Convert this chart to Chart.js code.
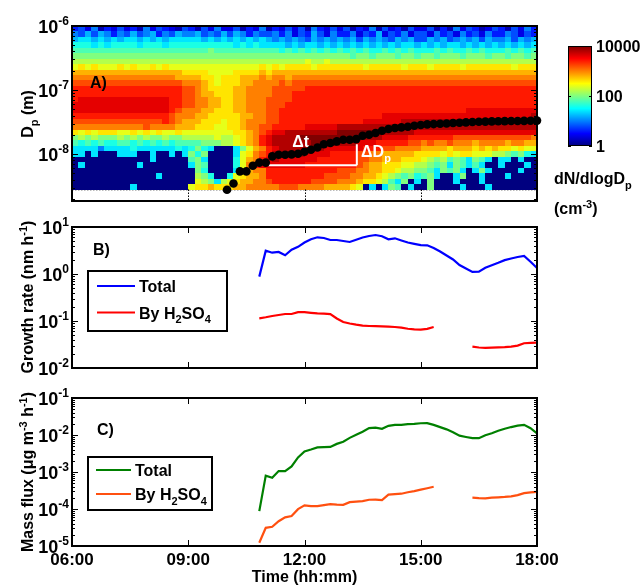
<!DOCTYPE html>
<html>
<head>
<meta charset="utf-8">
<title>New particle formation and growth</title>
<script src="https://cdn.jsdelivr.net/npm/chart.js@4.4.1/dist/chart.umd.min.js"></script>
<style>
  html, body { margin: 0; padding: 0; background: #fff; }
  #figure { position: relative; width: 641px; height: 585px; overflow: hidden; background: #fff; }
  #figure canvas { position: absolute; left: 0; }
</style>
</head>
<body>
<div id="figure">
  <canvas id="panelA" width="641" height="222" style="top:0px"></canvas>
  <canvas id="panelB" width="641" height="168" style="top:214px"></canvas>
  <canvas id="panelC" width="641" height="200" style="top:385px"></canvas>
</div>
<script>
// ---------------- data ----------------
const timeTickHours = [6, 9, 12, 15, 18];
const timeTickLabels = ['06:00', '09:00', '12:00', '15:00', '18:00'];
const dpTickExponents = [-8, -7, -6];
const rateTickExponents = [-2, -1, 0, 1];
const fluxTickExponents = [-5, -4, -3, -2, -1];
const colorbarTickValues = [1, 100, 10000];

// Size distribution: 10-minute columns from 06:00 to 18:00, 30 log-spaced
// diameter bins between 2.8 nm and 1 um, first row = largest diameters.
// One character per cell = log10(dN/dlogDp) in steps of 0.2:
// '0' = 0 ... '9' = 1.8, 'a' = 2.0 ... 'k' = 4.0
const sizeDistStartHour = 6;
const sizeDistStepHours = 1 / 6;
const sizeDistDpRange = [2.8e-9, 1e-6];
const sizeDistRows = [
  "342513242315243214 314252 241325 132424153242 413251423142 241315243124 314253",
  "546465354645635465 564546 465354 453524364253 352436243524 425342534253 354243",
  "677676767767676777 776767 676767 656565465656 564656546564 465645656465 564656",
  "888787888878887888 888888 878787 777676776767 676767676776 767677676767 676767",
  "999999999999999999 999a99 999999 998989898989 898988989898 889898898988 898989",
  "aaaaaaaaaaaaaaaaaa aaaaaa aaaaaa aaaaaaaaaaaa a9aa9aaa9aa9 aa9aaa9aaa9a a9aa9a",
  "bbbbbbbbbbbbbbbbbb bbbbbb bbbbbb bbbbbbcbbcbb bbbbbbbbbbbb bbbbbbbbbbbb bbbbbb",
  "cdcdcccdcdccdcdccc cccccc cccccd cdcddddcdddd dddcdddddcdd dcddddcddddd ddcddd",
  "eeeeeeeeeeeeeeeeed dddccc cdddde deeeeeeeeeee eeeeeeeeeeee eeeeeeeeeeee eeeeee",
  "ffffffffffffffffee eeddcd ddeeef effeffffffff ffffffffffff ffffffffffff ffffff",
  "gggggggggggggggggf ffedcd ddeeff ffgfgggggggg gggggggggggg gggggggggggg gggggg",
  "hhhhhhhhhhhhhhhhhg gfeddd deefff fggggghhhhhh hhhhhhhhhhhh hhhhhhhhhhhh hhhhhh",
  "hhhhhhhhhhhhhhhhhg gfeedd deefff fggghhhhhhhh hhhhhhhhhhhh hhhhhhhhhhhh hhhhhh",
  "hiiiiiiiiiiiiiihhg gffeed deefff gggghhhhhhhh hhhhhhhhhhhh hhhhhhhhhhhh hhhhhh",
  "iiiiiiiiiiiiiiihhg gffeed deefff ggghhhhhhhhh hhhhhhhhhhhh hhhhhhhhhhhh hhhhhh",
  "iiiiiiiiiiiiiiihgf ffeedd deefff gghhhhhhhhhh hhhhhhhhhhhh hhhhhhhiiiii iiiiii",
  "hhhhhhhhhhhhhhhgff feeddd ddeeff gghhhhhhhhhh hhhhhhiiiiii iiiiiiiiiiii iiiiij",
  "gggggggggggggghgfe eedddc ddefff gghhhhhhhhhh hhhiiiiiijjj jjjjjjjjjjjj jjjjjj",
  "fffffffffffgffffee edddcc ddeffg ghhhhhiiiiij jjjjjjjjjjjj jjjjjjjjjjjj jjjjjj",
  "dcdcdddccdcdcdccdc cccccc cddefg hiijjjjjjjjk kkkkkjjjjjji iiiiiiiiiiii iiiiii",
  "ababaaabababaabaab bbbbcb bcdefh ijjjjkkkkkkk kkkjjjiiiihh hhhhhggggggg gggggf",
  "989898899898989899 99aaab bcdefh ijjjjjjkkkkj jjiiihhhhhgg fgffgfffefff feffee",
  "777757777877777787 8a8700 07acef hijjjjjjjiii iiihhhggffff eeeedeeedede ddcdcc",
  "770700077700700707 a8a000 07cdfg hjjjjjiiiihh hhggffeeeeed dddcdcddcccb ba9a87",
  "000000000000700000 9a7000 08cefh ijiiiiiihhhh hhggffeeeddd cbab9a97a970 770700",
  "070000000070000000 7a9000 08cfhi iiiiiihhhhhh hhgfeedddccb ba9a7a979700 700070",
  "000000000000000000 0a8000 07deff hhhhhhhhhhhg ggffeeddcbba a97a9a707a70 000700",
  "000000000000070000 0ba800 8cdeef hhhhhhhhhggg gffeedcba9a8 9a7007a00700 070000",
  "000000000000000000 0cba7b cdeeff ghhhhhhggggf ffeddcb97a07 0a0007000700 000000",
  "000000000700000000 cddedd deefff ffgggffffeee edc0707a9070 0a0000700070 000000"
];

// Mode diameter (nm) of the growing particle population, every 10 min from 10:00
const modeStartHour = 10;
const modeDiameterNm = [
  2.77, 3.48, 5.37, 5.37, 6.56, 7.36, 7.36, 9.2, 9.75, 9.75,
  9.9, 10.1, 10.9, 11.7, 12.7, 14.2, 14.9, 15.8, 16.7, 16.7,
  17.1, 19.3, 20.0, 21.3, 23.1, 24.6, 25.5, 26.1, 26.7, 27.7,
  28.4, 29.1, 29.4, 29.8, 30.1, 30.5, 30.9, 31.3, 31.6, 31.9,
  32.1, 32.4, 32.5, 32.7, 32.8, 32.9, 33.0, 33.2, 33.3
];

// Growth rates (nm/h) and mass fluxes (ug m-3 h-1), every 10 min from 10:50
const rateStartHour = 10 + 50 / 60;
const growthRateTotal = [
  0.88, 3.13, 2.84, 2.94, 2.50, 3.29, 3.79, 4.68, 5.50, 6.04,
  5.83, 5.29, 5.29, 5.03, 4.80, 5.37, 5.98, 6.44, 6.76, 6.37,
  5.47, 5.75, 5.17, 4.68, 4.39, 4.10, 4.08, 3.57, 3.01, 2.48,
  2.04, 1.55, 1.31, 1.11, 1.12, 1.36, 1.54, 1.73, 1.97, 2.14,
  2.30, 2.42, 1.82, 1.34
];
const growthRateH2SO4 = [
  0.114, 0.120, 0.128, 0.134, 0.141, 0.141, 0.154, 0.154, 0.149, 0.145,
  0.143, 0.140, 0.113, 0.0953, 0.0885, 0.0834, 0.0798, 0.0783, 0.0775, 0.0767,
  0.0756, 0.0745, 0.0720, 0.0685, 0.0662, 0.0656, 0.0682, 0.0745, null, null,
  null, null, null, 0.0284, 0.0273, 0.0267, 0.0272, 0.0276, 0.0277, 0.0285,
  0.0300, 0.0336, 0.0341, 0.0345
];
const massFluxTotal = [
  8.75e-5, 7.98e-4, 7.0e-4, 1.06e-3, 1.06e-3, 1.41e-3, 2.47e-3, 3.60e-3, 4.05e-3, 4.62e-3,
  4.68e-3, 4.77e-3, 5.75e-3, 6.60e-3, 8.37e-3, 1.01e-2, 1.22e-2, 1.53e-2, 1.59e-2, 1.47e-2,
  1.77e-2, 1.88e-2, 1.88e-2, 1.96e-2, 2.00e-2, 2.08e-2, 2.10e-2, 1.88e-2, 1.63e-2, 1.42e-2,
  1.19e-2, 9.6e-3, 8.85e-3, 8.22e-3, 8.22e-3, 9.9e-3, 1.12e-2, 1.30e-2, 1.47e-2, 1.64e-2,
  1.79e-2, 1.88e-2, 1.53e-2, 1.11e-2
];
const massFluxH2SO4 = [
  1.22e-5, 3.10e-5, 3.32e-5, 4.68e-5, 5.93e-5, 6.47e-5, 9.9e-5, 1.25e-4, 1.19e-4, 1.19e-4,
  1.27e-4, 1.35e-4, 1.31e-4, 1.30e-4, 1.53e-4, 1.58e-4, 1.63e-4, 1.78e-4, 1.79e-4, 1.74e-4,
  2.45e-4, 2.53e-4, 2.59e-4, 2.83e-4, 3.05e-4, 3.33e-4, 3.63e-4, 3.99e-4, null, null,
  null, null, null, 2.02e-4, 1.97e-4, 1.94e-4, 2.03e-4, 2.07e-4, 2.12e-4, 2.20e-4,
  2.38e-4, 2.69e-4, 2.83e-4, 2.92e-4
];

// Markers for the growth time (dt) and diameter change (dDp)
const dtBar = { fromHour: 11.07, toHour: 13.35, dp: 6.7e-9 };
const dDpBar = { hour: 13.35, fromDp: 6.7e-9, toDp: 14.3e-9 };

// ---------------- helpers ----------------
const tenMinuteTimes = (start, n) => Array.from({ length: n }, (_, i) => start + i / 6);
const FONT_FAMILY = '"Liberation Sans", Arial, Helvetica, sans-serif';
const boldFont = size => `bold ${size}px ${FONT_FAMILY}`;
const smallSize = size => Math.round(size * 0.68);

function jet(t) {
  const c = v => Math.max(0, Math.min(1, v));
  return [
    c(Math.min(4 * t - 1.5, -4 * t + 4.5)),
    c(Math.min(4 * t - 0.5, -4 * t + 3.5)),
    c(Math.min(4 * t + 0.5, -4 * t + 2.5))
  ];
}
function jetCss(t) {
  const [r, g, b] = jet(t);
  return `rgb(${Math.round(r * 255)},${Math.round(g * 255)},${Math.round(b * 255)})`;
}
const LEVEL_CHARS = '0123456789abcdefghijk';
const cellLog10 = ch => Math.max(0, LEVEL_CHARS.indexOf(ch)) * 0.2;

// text made of runs: {t, s: 'sub' | 'sup'}
function runsWidth(ctx, runs, size) {
  let w = 0;
  for (const r of runs) {
    ctx.font = boldFont(r.s ? smallSize(size) : size);
    w += ctx.measureText(r.t).width;
  }
  return w;
}
function drawRuns(ctx, runs, x, y, size, align) {
  const w = runsWidth(ctx, runs, size);
  let cx = align === 'center' ? x - w / 2 : align === 'right' ? x - w : x;
  ctx.textAlign = 'left';
  ctx.textBaseline = 'alphabetic';
  for (const r of runs) {
    ctx.font = boldFont(r.s ? smallSize(size) : size);
    const dy = r.s === 'sub' ? size * 0.3 : r.s === 'sup' ? -size * 0.4 : 0;
    ctx.fillText(r.t, cx, y + dy);
    cx += ctx.measureText(r.t).width;
  }
}
// "By H2SO4" -> digits as subscripts
function formulaRuns(label) {
  return label.split(/(\d+)/).filter(s => s.length).map(s => /^\d+$/.test(s) ? { t: s, s: 'sub' } : { t: s });
}

function drawAxes(chart, cfg) {
  const { ctx, chartArea: a, scales: { x, y } } = chart;
  ctx.save();
  ctx.strokeStyle = '#000';
  ctx.fillStyle = '#000';
  ctx.lineWidth = 1;
  // decade and minor ticks on both vertical sides, pointing inwards
  ctx.beginPath();
  const d0 = Math.floor(Math.log10(y.min) + 1e-9), d1 = Math.ceil(Math.log10(y.max) - 1e-9);
  for (let d = d0; d <= d1; d++) {
    for (let m = 1; m < 10; m++) {
      const v = m * Math.pow(10, d);
      if (v < y.min * 0.999 || v > y.max * 1.001) continue;
      const py = Math.round(y.getPixelForValue(v)) + 0.5;
      const len = m === 1 ? 6 : 3;
      ctx.moveTo(a.left, py); ctx.lineTo(a.left + len, py);
      ctx.moveTo(a.right, py); ctx.lineTo(a.right - len, py);
    }
  }
  ctx.stroke();
  // time ticks
  ctx.beginPath();
  if (cfg.dottedFrom) ctx.setLineDash([1.5, 1.5]);
  timeTickHours.forEach(h => {
    if (h <= x.min || h >= x.max) return;
    const px = Math.round(x.getPixelForValue(h)) + 0.5;
    if (cfg.dottedFrom) {
      ctx.moveTo(px, y.getPixelForValue(cfg.dottedFrom)); ctx.lineTo(px, a.bottom);
    } else {
      ctx.moveTo(px, a.bottom); ctx.lineTo(px, a.bottom - 6);
      ctx.moveTo(px, a.top); ctx.lineTo(px, a.top + 6);
    }
  });
  ctx.stroke();
  ctx.setLineDash([]);
  // frame
  ctx.lineWidth = 2;
  ctx.strokeRect(a.left, a.top, a.right - a.left, a.bottom - a.top);
  // decade labels
  cfg.yExps.forEach(e => {
    const py = y.getPixelForValue(Math.pow(10, e));
    drawRuns(ctx, [{ t: '10' }, { t: String(e), s: 'sup' }], a.left - 3, py + 6.5, 18, 'right');
  });
  // time labels
  if (cfg.timeLabelBaseline) {
    timeTickHours.forEach((h, i) => {
      drawRuns(ctx, [{ t: timeTickLabels[i] }], x.getPixelForValue(h), cfg.timeLabelBaseline, 17, 'center');
    });
    drawRuns(ctx, [{ t: 'Time (hh:mm)' }], (a.left + a.right) / 2, cfg.timeTitleBaseline, 16, 'center');
  }
  // rotated y title
  ctx.save();
  ctx.translate(33, cfg.titleCenterY);
  ctx.rotate(-Math.PI / 2);
  drawRuns(ctx, cfg.title, 0, 0, 16, 'center');
  ctx.restore();
  // panel letter
  drawRuns(ctx, [{ t: cfg.letter[0] }], cfg.letter[1], cfg.letter[2], 16, 'left');
  ctx.restore();
}

function drawLegend(chart, box, rowY, lineX, textX) {
  const ctx = chart.ctx;
  ctx.save();
  ctx.fillStyle = '#fff';
  ctx.fillRect(box[0], box[1], box[2] - box[0], box[3] - box[1]);
  ctx.strokeStyle = '#000';
  ctx.lineWidth = 2;
  ctx.strokeRect(box[0], box[1], box[2] - box[0], box[3] - box[1]);
  chart.data.datasets.forEach((ds, i) => {
    ctx.strokeStyle = ds.borderColor;
    ctx.lineWidth = 2.2;
    ctx.beginPath();
    ctx.moveTo(lineX[0], rowY[i]); ctx.lineTo(lineX[1], rowY[i]);
    ctx.stroke();
    ctx.fillStyle = '#000';
    drawRuns(ctx, formulaRuns(ds.label), textX, rowY[i] + 6, 16, 'left');
  });
  ctx.restore();
}

function drawSizeDistribution(chart) {
  const { ctx, chartArea: a, scales: { x, y } } = chart;
  const lmin = Math.log10(sizeDistDpRange[0]), lmax = Math.log10(sizeDistDpRange[1]);
  const n = sizeDistRows.length;
  const colEdge = c => Math.round(x.getPixelForValue(sizeDistStartHour + c * sizeDistStepHours));
  const rowEdge = r => Math.round(y.getPixelForValue(Math.pow(10, lmax - (lmax - lmin) * r / n)));
  ctx.save();
  ctx.beginPath();
  ctx.rect(a.left, a.top, a.right - a.left, a.bottom - a.top);
  ctx.clip();
  sizeDistRows.forEach((row, r) => {
    const cells = row.replace(/\s+/g, '');
    const yTop = rowEdge(r), yBot = rowEdge(r + 1);
    for (let c = 0; c < cells.length; c++) {
      const x0 = colEdge(c), x1 = colEdge(c + 1);
      ctx.fillStyle = jetCss(cellLog10(cells[c]) / 4);
      // overlap by one pixel so neighbouring cells never leave a seam
      ctx.fillRect(x0, yTop, x1 - x0 + 1, yBot - yTop + 1);
    }
  });
  // lower edge of the measured size range
  const yEdge = rowEdge(n) + 1.5;
  ctx.fillStyle = '#fff';
  ctx.fillRect(a.left, rowEdge(n) + 1, a.right - a.left, a.bottom - rowEdge(n));
  ctx.strokeStyle = '#bbb';
  ctx.lineWidth = 1;
  ctx.setLineDash([1.5, 1.5]);
  ctx.beginPath();
  ctx.moveTo(a.left, yEdge); ctx.lineTo(a.right, yEdge);
  ctx.stroke();
  ctx.setLineDash([]);

  // dt / dDp markers
  ctx.strokeStyle = '#fff';
  ctx.lineWidth = 2;
  ctx.beginPath();
  ctx.moveTo(x.getPixelForValue(dtBar.fromHour), y.getPixelForValue(dtBar.dp));
  ctx.lineTo(x.getPixelForValue(dtBar.toHour), y.getPixelForValue(dtBar.dp));
  ctx.moveTo(x.getPixelForValue(dDpBar.hour), y.getPixelForValue(dDpBar.fromDp));
  ctx.lineTo(x.getPixelForValue(dDpBar.hour), y.getPixelForValue(dDpBar.toDp));
  ctx.stroke();
  ctx.fillStyle = '#fff';
  drawRuns(ctx, [{ t: '\u0394t' }], x.getPixelForValue(11.9), y.getPixelForValue(1.29e-8), 16, 'center');
  drawRuns(ctx, [{ t: '\u0394D' }, { t: 'p', s: 'sub' }], x.getPixelForValue(13.46), y.getPixelForValue(8.97e-9), 16, 'left');
  ctx.restore();
}

function drawColorbar(chart) {
  const ctx = chart.ctx;
  const L = 568, R = 592, T = 46, B = 146;
  ctx.save();
  const g = ctx.createLinearGradient(0, B, 0, T);
  for (let i = 0; i <= 64; i++) g.addColorStop(i / 64, jetCss(i / 64));
  ctx.fillStyle = g;
  ctx.fillRect(L, T, R - L, B - T);
  ctx.strokeStyle = '#000';
  ctx.lineWidth = 1;
  ctx.strokeRect(L + 0.5, T + 0.5, R - L - 1, B - T - 1);
  ctx.fillStyle = '#000';
  colorbarTickValues.forEach(v => {
    const py = B - (Math.log10(v) / 4) * (B - T);
    ctx.beginPath();
    ctx.moveTo(L, Math.round(py) + 0.5); ctx.lineTo(L + 3, Math.round(py) + 0.5);
    ctx.moveTo(R, Math.round(py) + 0.5); ctx.lineTo(R - 3, Math.round(py) + 0.5);
    ctx.stroke();
    drawRuns(ctx, [{ t: String(v) }], R + 4, py + 6, 16, 'left');
  });
  drawRuns(ctx, [{ t: 'dN/dlogD' }, { t: 'p', s: 'sub' }], 554, 184, 16, 'left');
  drawRuns(ctx, [{ t: '(cm' }, { t: '-3', s: 'sup' }, { t: ')' }], 554, 214, 16, 'left');
  ctx.restore();
}

// ---------------- charts ----------------
const commonOptions = (padding, yMin, yMax) => ({
  responsive: false,
  animation: false,
  devicePixelRatio: 1,
  events: [],
  layout: { padding },
  scales: {
    x: { type: 'linear', min: 6, max: 18, display: false },
    y: { type: 'logarithmic', min: yMin, max: yMax, display: false }
  },
  plugins: { legend: { display: false }, tooltip: { enabled: false } }
});

const modeTimes = tenMinuteTimes(modeStartHour, modeDiameterNm.length);
new Chart(document.getElementById('panelA'), {
  type: 'scatter',
  data: {
    datasets: [{
      label: 'Mode diameter',
      data: modeTimes.map((t, i) => ({ x: t, y: modeDiameterNm[i] * 1e-9 })),
      pointRadius: 4.3,
      pointBackgroundColor: '#000',
      pointBorderColor: '#000',
      pointBorderWidth: 0,
      clip: false
    }]
  },
  options: commonOptions({ left: 72, right: 104, top: 26, bottom: 21 }, 1.85e-9, 1e-6),
  plugins: [{
    id: 'sizeDistribution',
    beforeDatasetsDraw: chart => drawSizeDistribution(chart),
    afterDatasetsDraw: chart => {
      drawAxes(chart, {
        yExps: dpTickExponents,
        dottedFrom: sizeDistDpRange[0],
        title: [{ t: 'D' }, { t: 'p', s: 'sub' }, { t: ' (m)' }],
        titleCenterY: 114,
        letter: ['A)', 90, 88]
      });
      drawColorbar(chart);
    }
  }]
});

const rateTimes = tenMinuteTimes(rateStartHour, growthRateTotal.length);
const lineSet = (label, values, color) => ({
  label,
  data: rateTimes.map((t, i) => ({ x: t, y: values[i] })),
  borderColor: color,
  backgroundColor: color,
  borderWidth: 2.2,
  pointRadius: 0,
  fill: false,
  spanGaps: false,
  tension: 0
});

new Chart(document.getElementById('panelB'), {
  type: 'line',
  data: {
    datasets: [
      lineSet('Total', growthRateTotal, '#0000ff'),
      lineSet('By H2SO4', growthRateH2SO4, '#ff0000')
    ]
  },
  options: commonOptions({ left: 72, right: 104, top: 13, bottom: 14 }, 1e-2, 1e1),
  plugins: [{
    id: 'growthRateFrame',
    afterDatasetsDraw: chart => {
      drawAxes(chart, {
        yExps: rateTickExponents,
        title: [{ t: 'Growth rate (nm h' }, { t: '-1', s: 'sup' }, { t: ')' }],
        titleCenterY: 83,
        letter: ['B)', 93, 41]
      });
      drawLegend(chart, [88, 57, 227, 117], [72, 98.5], [97, 135], 139);
    }
  }]
});

new Chart(document.getElementById('panelC'), {
  type: 'line',
  data: {
    datasets: [
      lineSet('Total', massFluxTotal, '#008000'),
      lineSet('By H2SO4', massFluxH2SO4, '#ff5010')
    ]
  },
  options: commonOptions({ left: 72, right: 104, top: 13, bottom: 39 }, 1e-5, 1e-1),
  plugins: [{
    id: 'massFluxFrame',
    afterDatasetsDraw: chart => {
      drawAxes(chart, {
        yExps: fluxTickExponents,
        title: [{ t: 'Mass flux (\u03bcg m' }, { t: '-3', s: 'sup' }, { t: ' h' }, { t: '-1', s: 'sup' }, { t: ')' }],
        titleCenterY: 87,
        letter: ['C)', 97, 50],
        timeLabelBaseline: 180,
        timeTitleBaseline: 197
      });
      drawLegend(chart, [88, 72, 212, 125], [85, 109], [96, 131], 135);
    }
  }]
});
</script>
</body>
</html>
